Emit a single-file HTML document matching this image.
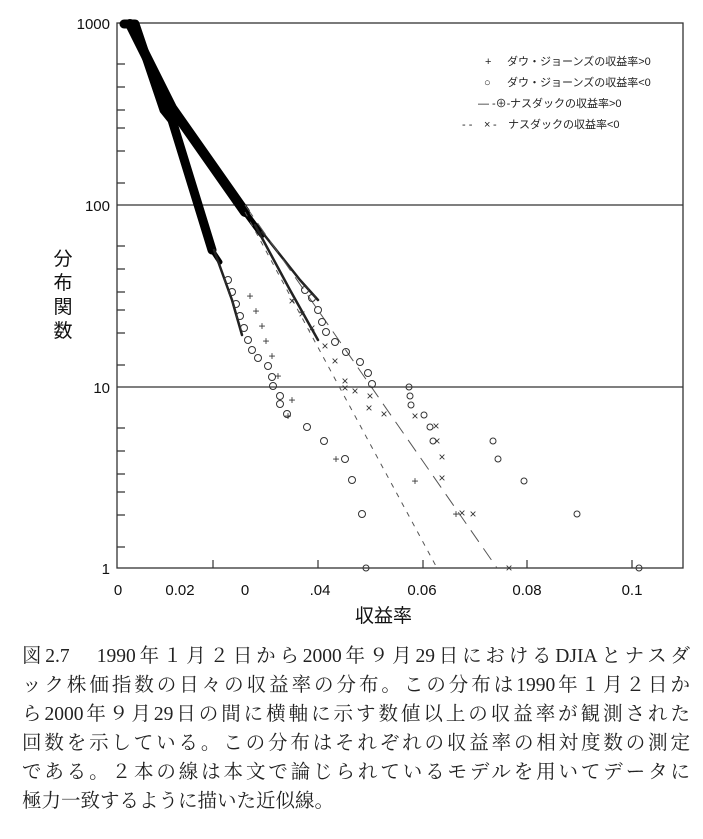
<!DOCTYPE html>
<html><head><meta charset="utf-8"><style>
body{margin:0;background:#fff;width:703px;height:839px;overflow:hidden;position:relative;font-family:"Liberation Sans","Noto Sans CJK JP",sans-serif}
.cap{position:absolute;left:22px;width:668px;font-family:"Liberation Serif","Noto Serif CJK SC",serif;font-size:19.5px;color:#222;text-align:justify;text-align-last:justify;white-space:nowrap}
</style></head><body>
<svg width="703" height="640" style="position:absolute;left:0;top:0" font-family="Liberation Sans, Noto Sans CJK JP, sans-serif">
<g stroke="#333" fill="none" stroke-width="1.3">
<rect x="117" y="23" width="566" height="545"/>
<line x1="117" y1="205" x2="683" y2="205"/><line x1="117" y1="387" x2="683" y2="387"/>
</g>
<g stroke="#333" stroke-width="1.2">
<path d="M117 64h8M117 87h8M117 110h8M117 128h8M117 151h8M117 183h8
M117 246h8M117 269h8M117 292h8M117 310h8M117 333h8M117 365h8
M117 428h8M117 451h8M117 474h8M117 492h8M117 515h8M117 547h8
M423 568v-8M527 568v-8M632 568v-8M318 568v-8M213 568v-8"/>
</g>
<g font-size="15" fill="#111" text-anchor="end">
<text x="110" y="29">1000</text><text x="110" y="211">100</text><text x="110" y="393">10</text><text x="110" y="574">1</text>
</g>
<g font-size="15" fill="#111" text-anchor="middle">
<text x="118" y="595">0</text><text x="180" y="595">0.02</text><text x="245" y="595">0</text><text x="320" y="595">.04</text><text x="422" y="595">0.06</text><text x="527" y="595">0.08</text><text x="632" y="595">0.1</text>
</g>
<text x="355" y="622" font-size="19" fill="#111">収益率</text>
<g font-size="19" fill="#111" text-anchor="middle"><text x="63" y="265">分</text><text x="63" y="289">布</text><text x="63" y="313">関</text><text x="63" y="337">数</text></g>
<!-- legend -->
<g font-size="11" fill="#222">
<text x="485" y="65">+</text><text x="507" y="65">ダウ・ジョーンズの収益率&gt;0</text>
<text x="484" y="86">○</text><text x="507" y="86">ダウ・ジョーンズの収益率&lt;0</text>
<text x="478" y="107">—</text><text x="492" y="107">-⊕-</text><text x="510" y="107">ナスダックの収益率&gt;0</text>
<text x="462" y="128">- -</text><text x="484" y="128">×</text><text x="493" y="128">-</text><text x="508" y="128">ナスダックの収益率&lt;0</text>
</g>
<!-- bands -->
<g stroke="#000" fill="none" stroke-linecap="round" stroke-linejoin="round">
<path d="M124 24 L135 24 L164 110 L172 120 L212 250" stroke-width="9"/>
<path d="M130 24 L172 108 L245 212" stroke-width="10"/>
<path d="M212 250 L220 262" stroke-width="5"/>
<path d="M245 212 L262 235" stroke-width="6"/>
<path d="M255 225 L290 290 L318 340" stroke-width="2.5" stroke="#222"/>
<path d="M262 232 L300 280 L318 300" stroke-width="2.5" stroke="#222"/>
<path d="M214 250 L232 300 L242 335" stroke-width="2.5" stroke="#222"/>
</g>
<!-- fit lines -->
<g stroke="#555" fill="none" stroke-width="1">
<path d="M245 212 L437 568" stroke-dasharray="5 6"/>
<path d="M245 205 L497 568" stroke-dasharray="14 8"/>
</g>
<!-- markers -->
<g fill="none" stroke="#333" stroke-width="1">
<circle cx="228" cy="280" r="3.5"/><circle cx="232" cy="292" r="3.5"/><circle cx="236" cy="304" r="3.5"/><circle cx="240" cy="316" r="3.5"/><circle cx="244" cy="328" r="3.5"/><circle cx="248" cy="340" r="3.5"/><circle cx="252" cy="350" r="3.5"/><circle cx="258" cy="358" r="3.5"/>
<circle cx="268" cy="366" r="3.5"/><circle cx="272" cy="377" r="3.5"/><circle cx="273" cy="386" r="3.5"/><circle cx="280" cy="396" r="3.5"/><circle cx="280" cy="404" r="3.5"/><circle cx="287" cy="414" r="3.5"/><circle cx="307" cy="427" r="3.5"/><circle cx="324" cy="441" r="3.5"/><circle cx="345" cy="459" r="3.5"/><circle cx="352" cy="480" r="3.5"/><circle cx="362" cy="514" r="3.5"/><circle cx="366" cy="568" r="3"/>
<circle cx="305" cy="290" r="3.5"/><circle cx="312" cy="298" r="3.5"/><circle cx="318" cy="310" r="3.5"/><circle cx="322" cy="322" r="3.5"/><circle cx="326" cy="332" r="3.5"/><circle cx="335" cy="342" r="3.5"/><circle cx="346" cy="352" r="3.5"/><circle cx="360" cy="362" r="3.5"/><circle cx="368" cy="373" r="3.5"/><circle cx="372" cy="384" r="3.5"/>
<circle cx="409" cy="387" r="3"/><circle cx="410" cy="396" r="3"/><circle cx="411" cy="405" r="3"/><circle cx="424" cy="415" r="3"/><circle cx="430" cy="427" r="3"/><circle cx="433" cy="441" r="3"/><circle cx="493" cy="441" r="3"/><circle cx="498" cy="459" r="3"/><circle cx="524" cy="481" r="3"/><circle cx="577" cy="514" r="3"/><circle cx="639" cy="568" r="3"/>
</g>
<g fill="#333" font-size="12" text-anchor="middle">
<text x="250" y="300">+</text><text x="256" y="315">+</text><text x="262" y="330">+</text><text x="266" y="345">+</text><text x="272" y="360">+</text><text x="278" y="380">+</text><text x="288" y="420">+</text><text x="292" y="404">+</text><text x="336" y="463">+</text><text x="415" y="485">+</text><text x="456" y="518">+</text>
</g>
<g fill="#333" font-size="12" text-anchor="middle">
<text x="292" y="305">×</text><text x="302" y="318">×</text><text x="312" y="332">×</text><text x="325" y="350">×</text><text x="335" y="365">×</text><text x="345" y="385">×</text><text x="355" y="395">×</text><text x="370" y="400">×</text><text x="384" y="418">×</text><text x="345" y="392">×</text><text x="369" y="412">×</text>
<text x="415" y="420">×</text><text x="437" y="445">×</text><text x="436" y="430">×</text><text x="442" y="461">×</text><text x="442" y="482">×</text><text x="462" y="517">×</text><text x="473" y="518">×</text><text x="509" y="572">×</text>
</g>
</svg>
<div class="cap" style="top:640px">図2.7　1990年１月２日から2000年９月29日におけるDJIAとナスダ</div>
<div class="cap" style="top:669px">ック株価指数の日々の収益率の分布。この分布は1990年１月２日か</div>
<div class="cap" style="top:698px">ら2000年９月29日の間に横軸に示す数値以上の収益率が観測された</div>
<div class="cap" style="top:727px">回数を示している。この分布はそれぞれの収益率の相対度数の測定</div>
<div class="cap" style="top:756px">である。２本の線は本文で論じられているモデルを用いてデータに</div>
<div class="cap" style="top:785px;text-align-last:left">極力一致するように描いた近似線。</div>
</body></html>
